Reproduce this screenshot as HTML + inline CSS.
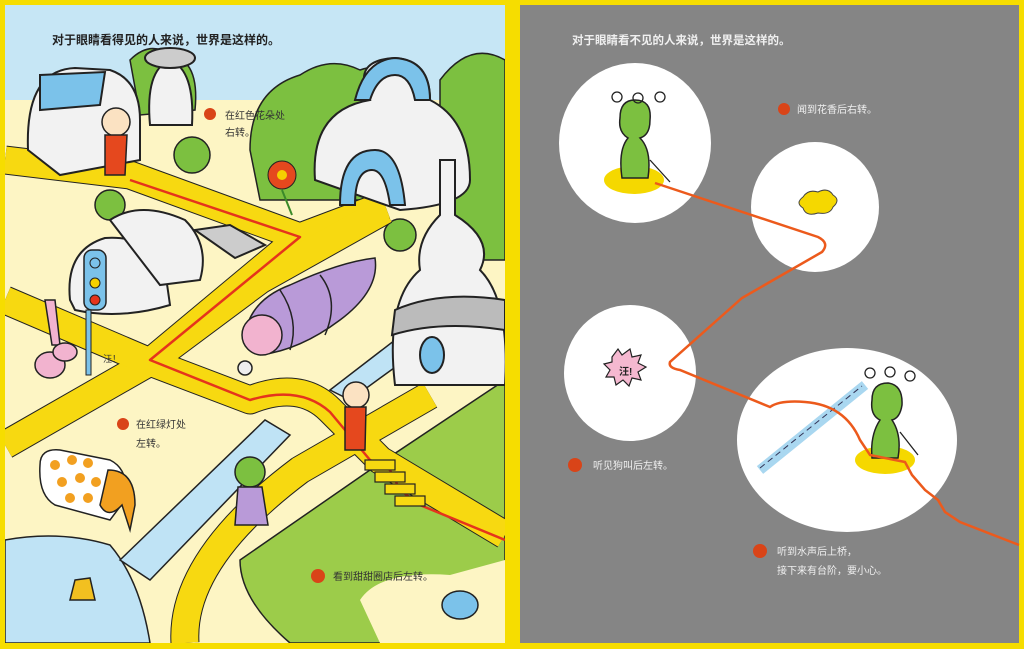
<!DOCTYPE html>
<html><head><meta charset="utf-8"><style>
html,body{margin:0;padding:0;background:#f5dc00;width:1024px;height:649px;overflow:hidden}
svg{display:block}
text{font-family:"Liberation Sans","Noto Sans CJK SC",sans-serif}
</style></head><body>
<svg width="1024" height="649" viewBox="0 0 1024 649">
<rect width="1024" height="649" fill="#f6dd00"/>
<!-- LEFT PANEL -->
<clipPath id="lc"><rect x="5" y="5" width="500" height="638"/></clipPath>
<g clip-path="url(#lc)">
<rect x="5" y="5" width="500" height="638" fill="#fdf5c4"/>
<rect x="5" y="5" width="500" height="95" fill="#c6e6f5"/>
<!-- grass -->
<path d="M240,560 L370,470 L505,380 L505,643 L290,643 Q240,600 240,560Z" fill="#9ccc4a" stroke="#222" stroke-width="1.5"/>
<path d="M360,600 Q380,570 450,575 L505,560 L505,643 L380,643 Z" fill="#fdf5c4"/>
<!-- water -->
<path d="M5,540 Q60,530 110,545 Q140,580 150,643 L5,643Z" fill="#bfe3f5" stroke="#222" stroke-width="1.5"/>
<path d="M120,560 L265,420 L290,435 L150,580Z" fill="#bfe3f5" stroke="#222" stroke-width="1.5"/>
<path d="M330,390 L395,340 L405,360 L350,400Z" fill="#bfe3f5" stroke="#222" stroke-width="1.5"/>
<!-- trees -->
<g fill="#7cc040" stroke="#222" stroke-width="1.5">
<path d="M250,150 Q250,90 300,75 Q330,55 360,70 Q390,60 400,80 L400,200 L260,200Z"/>
<path d="M440,80 Q470,40 505,60 L505,260 L440,260Z"/>
<path d="M130,60 Q150,40 170,55 Q200,60 195,110 L140,115Z"/>
<circle cx="192" cy="155" r="18"/><circle cx="110" cy="205" r="15"/><circle cx="400" cy="235" r="16"/>
</g>
<!-- roads -->
<g fill="none" stroke-linejoin="round" stroke-linecap="butt">
<g stroke="#222" stroke-width="29">
<path d="M5,160 L130,175 L300,237 L150,362 L5,445"/>
<path d="M300,237 L385,205"/>
<path d="M150,362 L5,300"/>
<path d="M150,362 L250,400 Q300,380 330,410 L380,460 L505,535"/>
<path d="M150,362 L260,280 L385,210"/>
<path d="M430,395 L300,470 Q180,560 185,643"/>
</g>
<g stroke="#f7d911" stroke-width="27">
<path d="M5,160 L130,175 L300,237 L150,362 L5,445"/>
<path d="M300,237 L385,205"/>
<path d="M150,362 L5,300"/>
<path d="M150,362 L250,400 Q300,380 330,410 L380,460 L505,535"/>
<path d="M150,362 L260,280 L385,210"/>
<path d="M430,395 L300,470 Q180,560 185,643"/>
</g>
<path d="M130,180 L300,237 L150,360 L250,400 Q300,385 330,412 L370,460 L390,470 L400,490 L420,505 L505,540" stroke="#e5341c" stroke-width="2.5"/>
</g>
<!-- stairs -->
<g fill="#f7d911" stroke="#222" stroke-width="1.2">
<rect x="365" y="460" width="30" height="10"/><rect x="375" y="472" width="30" height="10"/><rect x="385" y="484" width="30" height="10"/><rect x="395" y="496" width="30" height="10"/>
</g>
<!-- buildings -->
<g stroke="#222" stroke-width="2">
<path d="M28,150 Q25,70 75,68 L110,70 Q140,80 140,120 L140,160 L60,175Z" fill="#f2f2f2"/>
<path d="M40,75 L105,72 L100,105 L40,110Z" fill="#7bc2ea"/>
<path d="M150,125 Q145,70 170,60 Q195,70 192,125Z" fill="#f2f2f2"/>
<ellipse cx="170" cy="58" rx="25" ry="10" fill="#ccc"/>
<path d="M315,180 Q310,110 370,100 Q350,60 395,58 Q430,60 430,100 Q470,120 470,180 Q470,205 400,210Z" fill="#f2f2f2"/>
<path d="M355,100 Q365,60 395,58 Q430,60 430,100 L415,100 Q410,75 395,75 Q378,75 370,100Z" fill="#7bc2ea"/>
<path d="M340,205 Q340,150 375,150 Q400,150 405,205 L390,205 Q385,170 372,170 Q355,170 355,205Z" fill="#7bc2ea"/>
<path d="M395,385 Q385,300 420,270 Q415,240 440,215 L440,160 L455,160 L455,215 Q495,240 480,270 Q510,300 505,385Z" fill="#f2f2f2"/>
<path d="M395,310 Q440,290 505,300 L505,330 Q440,320 392,335Z" fill="#bbb"/>
<ellipse cx="432" cy="355" rx="12" ry="18" fill="#7bc2ea"/>
<path d="M70,300 Q65,250 105,238 Q150,235 165,270 L170,305 Q120,320 75,310Z" fill="#f2f2f2"/>
<path d="M110,220 Q140,200 185,220 Q210,245 200,280 L160,285Z" fill="#f2f2f2"/>
<path d="M195,230 L230,225 L265,245 L235,258Z" fill="#ccc"/>
</g>
<rect x="84" y="250" width="22" height="60" rx="8" fill="#7bc2ea" stroke="#222" stroke-width="1.5"/>
<circle cx="95" cy="263" r="5" fill="#7bc2ea" stroke="#222"/><circle cx="95" cy="283" r="5" fill="#f5d000" stroke="#222"/><circle cx="95" cy="300" r="5" fill="#e5341c" stroke="#222"/>
<rect x="86" y="310" width="5" height="65" fill="#7bc2ea" stroke="#222"/>
<g stroke="#222" stroke-width="1.5">
<path d="M245,335 Q250,300 290,285 Q340,262 375,258 Q380,290 340,320 Q300,350 260,355Z" fill="#b99ad8"/>
<path d="M280,290 Q300,320 290,350 M320,275 Q340,300 325,335" fill="none"/>
<ellipse cx="262" cy="335" rx="20" ry="20" fill="#f2b3cf"/>
<circle cx="245" cy="368" r="7" fill="#eee"/>
</g>
<g stroke="#222" stroke-width="1.5">
<path d="M40,465 Q40,448 60,450 L110,460 Q130,470 125,500 L110,520 L55,505 Q38,495 40,465Z" fill="#fff"/>
<path d="M108,470 Q135,470 135,505 L130,530 L122,505 Q108,520 100,505Z" fill="#f2a020"/>
</g>
<g fill="#f2a020"><circle cx="55" cy="465" r="5"/><circle cx="72" cy="460" r="5"/><circle cx="88" cy="463" r="5"/><circle cx="62" cy="482" r="5"/><circle cx="80" cy="478" r="5"/><circle cx="96" cy="482" r="5"/><circle cx="70" cy="498" r="5"/><circle cx="88" cy="498" r="5"/></g>
<g fill="#f2b3cf" stroke="#222" stroke-width="1.5"><path d="M45,300 L52,345 L60,345 L55,300Z"/><ellipse cx="50" cy="365" rx="15" ry="13"/><ellipse cx="65" cy="352" rx="12" ry="9"/></g>
<g stroke="#222" stroke-width="1.5">
<circle cx="116" cy="122" r="14" fill="#fbe2c2"/><path d="M105,135 L127,135 L125,175 L105,175Z" fill="#e5481e"/>
<circle cx="356" cy="395" r="13" fill="#fbe2c2"/><path d="M345,407 L366,407 L365,450 L345,450Z" fill="#e5481e"/>
<circle cx="250" cy="472" r="15" fill="#7cc040"/><path d="M238,487 L262,487 L268,525 L235,525Z" fill="#b99ad8"/>
<ellipse cx="460" cy="605" rx="18" ry="14" fill="#7bc2ea"/>
<path d="M75,580 L90,578 L95,600 L70,600Z" fill="#f2c020"/>
</g>
<circle cx="282" cy="175" r="14" fill="#e5481e" stroke="#222"/><circle cx="282" cy="175" r="5" fill="#f5d000"/>
<path d="M282,190 L292,215" stroke="#3a8a2a" stroke-width="2"/>
<text x="52" y="44" font-size="12" fill="#222" font-weight="bold">对于眼睛看得见的人来说，世界是这样的。</text>
<circle cx="210" cy="114" r="6" fill="#d94418"/><text x="225" y="119" font-size="10" fill="#333">在红色花朵处</text><text x="225" y="136" font-size="10" fill="#333">右转。</text>
<circle cx="123" cy="424" r="6" fill="#d94418"/><text x="136" y="428" font-size="10" fill="#333">在红绿灯处</text><text x="136" y="447" font-size="10" fill="#333">左转。</text>
<circle cx="318" cy="576" r="7" fill="#d94418"/><text x="333" y="580" font-size="10" fill="#333">看到甜甜圈店后左转。</text>
<text x="103" y="362" font-size="9" fill="#333">汪！</text>
</g>

<!-- RIGHT PANEL -->
<rect x="520" y="5" width="499" height="638" fill="#858585"/>
<g fill="#fff">
<ellipse cx="635" cy="143" rx="76" ry="80"/>
<ellipse cx="815" cy="207" rx="64" ry="65"/>
<ellipse cx="630" cy="373" rx="66" ry="68"/>
<ellipse cx="847" cy="440" rx="110" ry="92"/>
</g>
<ellipse cx="634" cy="180" rx="30" ry="14" fill="#f5d800"/>
<ellipse cx="885" cy="460" rx="30" ry="14" fill="#f5d800"/>
<path d="M803,197 q5,-8 15,-5 q10,-5 15,3 q8,5 0,12 q-3,8 -15,6 q-12,4 -15,-5 q-8,-5 0,-11z" fill="#f5d800" stroke="#444" stroke-width="1"/>
<g stroke="#222" stroke-width="1.5" fill="#7cc040">
<path d="M620,118 Q620,100 635,100 Q652,100 650,120 Q650,135 640,138 Q652,150 648,178 L622,178 Q618,150 628,138 Q618,132 620,118Z"/>
<path d="M872,400 Q872,383 888,383 Q903,385 902,405 Q900,418 892,420 Q902,435 898,458 L872,458 Q870,435 880,420 Q870,415 872,400Z"/>
</g>
<g fill="none" stroke="#222" stroke-width="1.3">
<circle cx="617" cy="97" r="5"/><circle cx="638" cy="98" r="5"/><circle cx="660" cy="97" r="5"/>
<circle cx="870" cy="373" r="5"/><circle cx="890" cy="372" r="5"/><circle cx="910" cy="376" r="5"/>
<path d="M650,160 L670,182 M900,432 L918,455"/>
</g>
<path d="M760,470 L865,385" stroke="#a9d7f0" stroke-width="10"/>
<path d="M760,468 L862,386" stroke="#335" stroke-width="1" stroke-dasharray="6,4" fill="none"/>
<path d="M612,357 l6,-8 l4,6 l8,-6 l2,8 l9,-2 l-3,8 l8,4 l-8,5 l3,8 l-9,-2 l-3,8 l-6,-6 l-7,5 l-2,-8 l-8,0 l4,-7 l-6,-6 l8,-2 z" fill="#f5b8d0" stroke="#222" stroke-width="1.2"/>
<text x="619" y="375" font-size="10" fill="#222" font-weight="bold">汪!</text>
<path d="M655,183 L818,237 Q830,243 822,252 L742,298 L670,362 Q668,368 680,370 L770,407 Q780,400 805,402 Q845,405 860,440 L870,455 L905,462 L912,475 L925,490 L938,500 L945,512 L960,522 L1019,545" fill="none" stroke="#ec5a1c" stroke-width="2.5"/>
<g fill="#f0f0f0" font-size="10">
<text x="572" y="44" font-size="11.5" font-weight="bold">对于眼睛看不见的人来说，世界是这样的。</text>
<circle cx="784" cy="109" r="6" fill="#d94418"/><text x="797" y="113">闻到花香后右转。</text>
<circle cx="575" cy="465" r="7" fill="#d94418"/><text x="593" y="469">听见狗叫后左转。</text>
<circle cx="760" cy="551" r="7" fill="#d94418"/><text x="777" y="555">听到水声后上桥，</text><text x="777" y="574">接下来有台阶，要小心。</text>
</g>
</svg>
</body></html>
